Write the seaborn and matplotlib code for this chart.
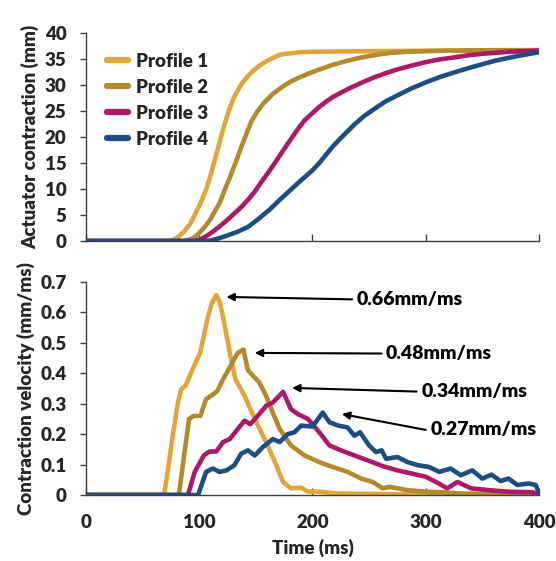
import numpy as np
import pandas as pd
import matplotlib
matplotlib.use("Agg")
import matplotlib.pyplot as plt
import seaborn as sns

# ---------------- data ----------------
profiles = ["Profile 1", "Profile 2", "Profile 3", "Profile 4"]
colors = ["#E0A63C", "#B48A2C", "#AD1868", "#1C4E80"]

# Actuator contraction (mm)
p1_t = [0, 72, 77, 82, 87, 92, 96, 101, 106, 110, 114, 118, 122, 126, 131, 137, 143, 148, 153, 158, 162, 167, 171, 176, 181, 190, 200, 250, 300, 350, 400]
p1_c = [0, 0, 0.2, 0.9, 1.9, 3.3, 5.0, 7.2, 9.8, 12.6, 15.8, 19.0, 22.2, 25.0, 27.8, 30.1, 31.7, 32.8, 33.7, 34.4, 34.9, 35.4, 35.8, 36.0, 36.1, 36.3, 36.4, 36.5, 36.6, 36.6, 36.7]
p2_t = [0, 86, 90, 95, 99, 104, 109, 113, 118, 122, 127, 132, 137, 142, 146, 151, 156, 161, 165, 173, 181, 190, 200, 209, 218, 228, 237, 246, 256, 270, 284, 320, 360, 400]
p2_c = [0, 0, 0.2, 0.6, 1.3, 2.5, 3.9, 5.4, 7.3, 9.6, 12.2, 15.0, 18.0, 20.8, 23.0, 24.8, 26.3, 27.4, 28.3, 29.6, 30.7, 31.6, 32.5, 33.2, 33.9, 34.5, 35.0, 35.4, 35.8, 36.2, 36.4, 36.6, 36.7, 36.7]
p3_t = [0, 95, 100, 106, 112, 118, 124, 130, 137, 143, 149, 155, 162, 168, 174, 181, 187, 193, 200, 206, 212, 218, 225, 231, 237, 246, 256, 265, 275, 287, 300, 312, 325, 337, 350, 362, 375, 387, 400]
p3_c = [0, 0, 0.2, 0.9, 1.8, 2.8, 3.9, 5.1, 6.5, 7.9, 9.5, 11.4, 13.5, 15.4, 17.4, 19.6, 21.5, 23.2, 24.6, 25.8, 26.8, 27.7, 28.5, 29.2, 29.8, 30.7, 31.6, 32.3, 33.0, 33.7, 34.4, 34.9, 35.3, 35.7, 36.0, 36.2, 36.4, 36.5, 36.6]
p4_t = [0, 105, 110, 117, 124, 133, 143, 152, 162, 171, 181, 190, 200, 206, 212, 218, 225, 231, 237, 246, 256, 265, 275, 287, 300, 312, 325, 337, 350, 362, 375, 387, 400]
p4_c = [0, 0, 0.1, 0.5, 1.0, 1.7, 2.7, 4.2, 6.0, 7.9, 9.9, 11.7, 13.6, 15.0, 16.6, 18.2, 19.8, 21.1, 22.4, 24.1, 25.6, 26.9, 28.0, 29.3, 30.5, 31.5, 32.4, 33.2, 34.0, 34.7, 35.3, 35.8, 36.3]

# Contraction velocity (mm/ms)
v1_t = [0, 69, 73, 77, 81, 84, 88, 95, 101, 107, 111, 115, 118, 121, 127, 132, 140, 149, 159, 168, 174, 181, 190, 196, 206, 221, 260, 320, 400]
v1_v = [0, 0, 0.1, 0.206, 0.3, 0.347, 0.36, 0.42, 0.47, 0.575, 0.63, 0.657, 0.635, 0.586, 0.467, 0.38, 0.326, 0.25, 0.174, 0.098, 0.043, 0.022, 0.024, 0.011, 0.011, 0.005, 0.003, 0.002, 0.002]
v2_t = [0, 82, 87, 91, 95, 101, 106, 112, 116, 121, 127, 134, 139, 143, 148, 153, 159, 165, 171, 181, 193, 206, 218, 231, 243, 253, 262, 268, 284, 300, 315, 331, 360, 400]
v2_v = [0, 0, 0.14, 0.25, 0.26, 0.26, 0.315, 0.33, 0.342, 0.38, 0.42, 0.467, 0.478, 0.41, 0.39, 0.37, 0.326, 0.27, 0.217, 0.163, 0.13, 0.108, 0.092, 0.076, 0.054, 0.043, 0.022, 0.027, 0.016, 0.011, 0.009, 0.005, 0.004, 0.003]
v3_t = [0, 90, 96, 104, 109, 115, 121, 127, 134, 140, 145, 153, 159, 165, 174, 181, 187, 196, 206, 215, 225, 237, 253, 262, 275, 287, 300, 309, 319, 328, 340, 356, 372, 394, 400]
v3_v = [0, 0, 0.076, 0.13, 0.143, 0.143, 0.174, 0.184, 0.217, 0.244, 0.233, 0.266, 0.293, 0.304, 0.339, 0.282, 0.266, 0.25, 0.206, 0.163, 0.147, 0.13, 0.108, 0.095, 0.081, 0.071, 0.06, 0.043, 0.022, 0.043, 0.022, 0.016, 0.011, 0.009, 0.005]
v4_t = [0, 99, 106, 112, 118, 124, 131, 137, 143, 149, 156, 165, 171, 178, 184, 190, 200, 209, 215, 223, 231, 237, 242, 250, 256, 261, 265, 275, 284, 293, 303, 312, 322, 331, 341, 350, 358, 366, 373, 381, 391, 397, 400]
v4_v = [0, 0, 0.076, 0.087, 0.076, 0.081, 0.098, 0.136, 0.147, 0.13, 0.157, 0.184, 0.174, 0.2, 0.206, 0.228, 0.225, 0.271, 0.239, 0.228, 0.222, 0.195, 0.206, 0.163, 0.141, 0.147, 0.119, 0.125, 0.108, 0.098, 0.092, 0.076, 0.087, 0.065, 0.081, 0.054, 0.067, 0.046, 0.054, 0.033, 0.038, 0.033, 0.01]

peak_labels = ["0.66mm/ms", "0.48mm/ms", "0.34mm/ms", "0.27mm/ms"]
peak_tips = [(124, 0.651), (149, 0.467), (182, 0.352), (226, 0.266)]
peak_text = [(239, 0.643), (265, 0.465), (296, 0.34), (304, 0.214)]

# ---------------- frames ----------------
def frame(ts, vs, name, col):
    return pd.DataFrame({"Time": ts, col: vs, "Profile": name})

disp = pd.concat([frame(p1_t, p1_c, profiles[0], "c"), frame(p2_t, p2_c, profiles[1], "c"),
                  frame(p3_t, p3_c, profiles[2], "c"), frame(p4_t, p4_c, profiles[3], "c")])
vel = pd.concat([frame(v1_t, v1_v, profiles[0], "v"), frame(v2_t, v2_v, profiles[1], "v"),
                 frame(v3_t, v3_v, profiles[2], "v"), frame(v4_t, v4_v, profiles[3], "v")])

# ---------------- style ----------------
sns.set_theme(style="white")
plt.rcParams["font.family"] = ["Lato", "DejaVu Sans"]
W = "heavy"
plt.rcParams["font.weight"] = W
plt.rcParams["axes.labelweight"] = W

fig = plt.figure(figsize=(5.56, 5.61), dpi=100)
ax1 = fig.add_axes([0.1547, 0.5704, 0.8147, 0.3708])
ax2 = fig.add_axes([0.1547, 0.1176, 0.8147, 0.3797])

pal = dict(zip(profiles, colors))
sns.lineplot(data=disp, x="Time", y="c", hue="Profile", hue_order=profiles, palette=pal,
             estimator=None, linewidth=3.3, ax=ax1)
sns.lineplot(data=vel, x="Time", y="v", hue="Profile", hue_order=profiles, palette=pal,
             estimator=None, linewidth=3.3, ax=ax2, legend=False)

fs = 13.5
spine_col = "#404040"
for ax in (ax1, ax2):
    ax.set_xlim(0, 400)
    ax.set_xticks([0, 100, 200, 300, 400])
    for s in ("top", "right"):
        ax.spines[s].set_visible(False)
    for s in ("left", "bottom"):
        ax.spines[s].set_color(spine_col)
        ax.spines[s].set_linewidth(1.0)
    ax.tick_params(axis="y", direction="out", length=4, width=1, color=spine_col,
                   labelsize=fs, left=True, pad=10)
    ax.tick_params(axis="x", direction="in", length=5, width=1, color=spine_col,
                   labelsize=fs, bottom=True, pad=13.5)

ax1.set_ylim(0, 40)
ax1.set_yticks(range(0, 41, 5))
ax1.set_xticklabels([])
ax1.set_xlabel("")
ax1.set_ylabel("Actuator contraction (mm)", fontsize=fs, fontweight=W, labelpad=4)

ax2.set_ylim(0, 0.7)
ax2.set_yticks([0, 0.1, 0.2, 0.3, 0.4, 0.5, 0.6, 0.7])
ax2.set_yticklabels(["0", "0.1", "0.2", "0.3", "0.4", "0.5", "0.6", "0.7"])
ax2.set_xlabel("Time (ms)", fontsize=fs, fontweight=W, labelpad=6)
ax2.set_ylabel("Contraction velocity (mm/ms)", fontsize=fs, fontweight=W, labelpad=4)
for ax in (ax1, ax2):
    for lab in ax.get_xticklabels() + ax.get_yticklabels():
        lab.set_fontweight(W)

leg = ax1.legend(loc="upper left", bbox_to_anchor=(0.01, 0.985), frameon=False,
                 handlelength=1.1, handletextpad=0.45, labelspacing=0.48,
                 prop={"size": fs, "weight": W})
for h in leg.get_lines():
    h.set_linewidth(4.5)

for lbl, tip, txt in zip(peak_labels, peak_tips, peak_text):
    ax2.annotate("", xy=tip, xytext=(txt[0] - 4, txt[1]),
                 arrowprops=dict(arrowstyle="-|>", color="black", lw=1.5,
                                 mutation_scale=11, shrinkA=0, shrinkB=0))
    ax2.text(txt[0], txt[1], lbl, fontsize=fs + 0.5, fontweight=W,
             va="center", ha="left", color="black")

fig.savefig("out.png", dpi=100)
